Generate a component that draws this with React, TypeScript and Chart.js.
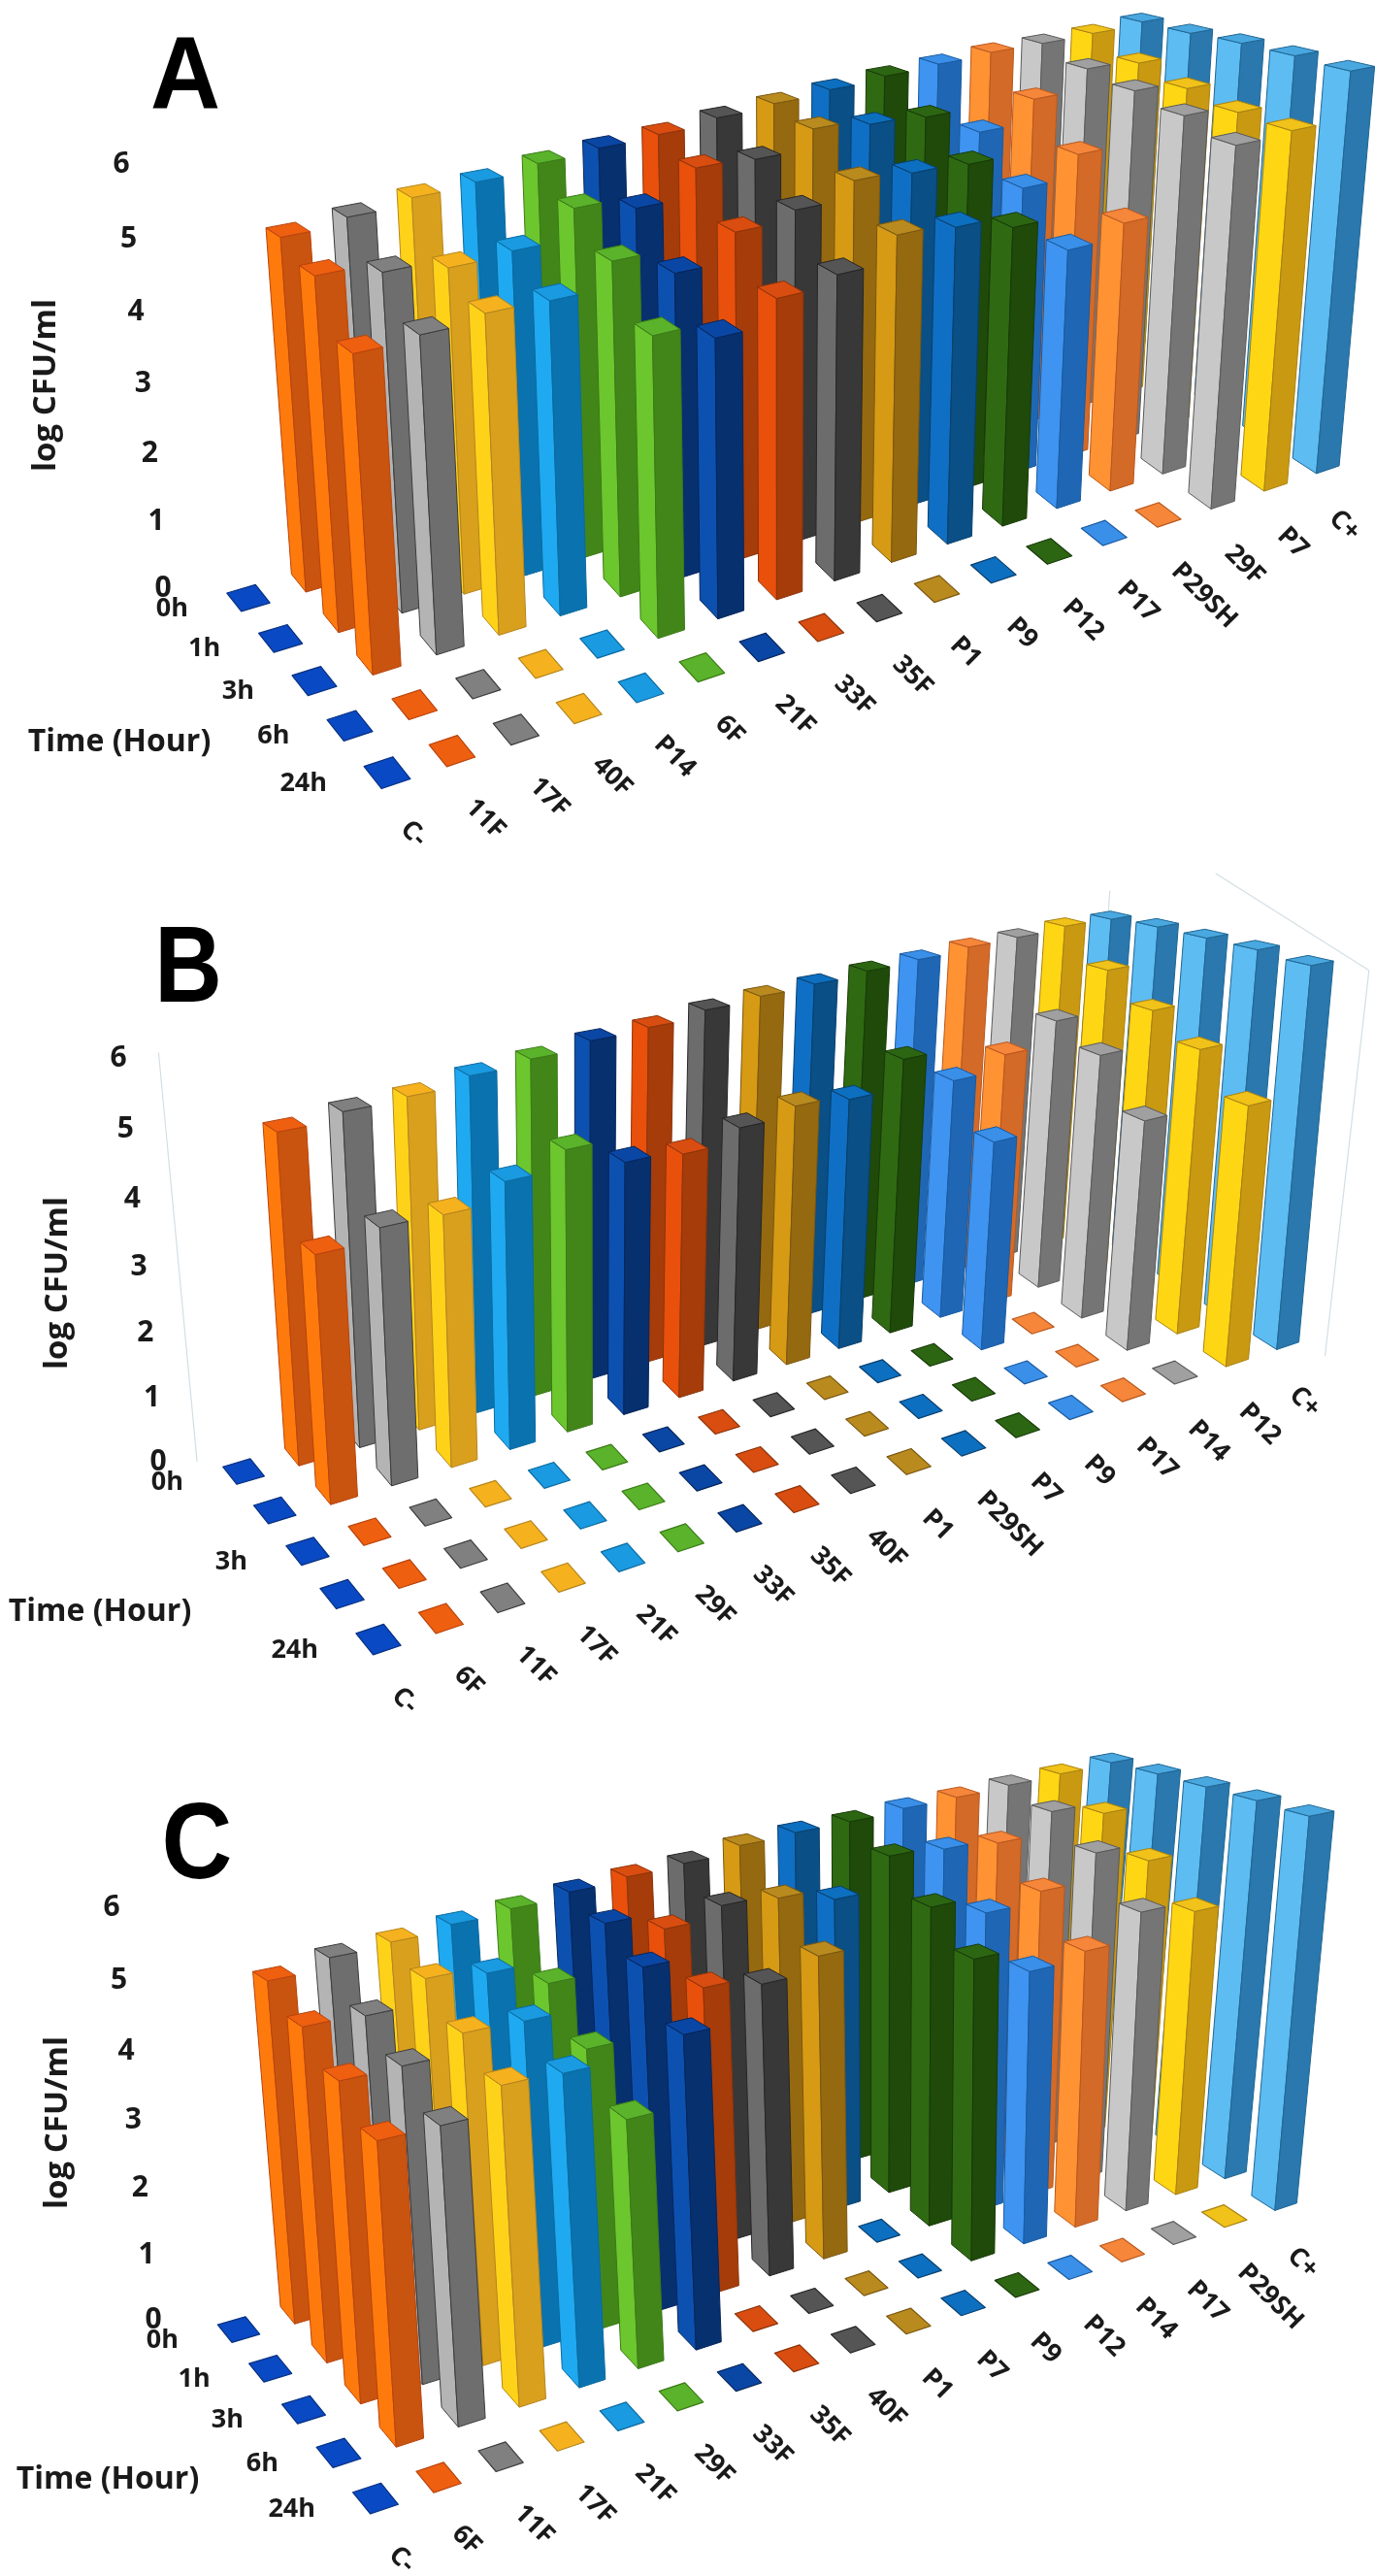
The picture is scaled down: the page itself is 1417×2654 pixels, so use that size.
import React, { useEffect, useRef } from "react";
import { Chart, registerables } from "chart.js";

Chart.register(...registerables);

// ---------- data ----------
const catsA = ["C-", "11F", "17F", "40F", "P14", "6F", "21F", "33F", "35F", "P1", "P9", "P12", "P17", "P29SH", "29F", "P7", "C+"];
const catsB = ["C-", "6F", "11F", "17F", "21F", "29F", "33F", "35F", "40F", "P1", "P29SH", "P7", "P9", "P17", "P14", "P12", "C+"];
const catsC = ["C-", "6F", "11F", "17F", "21F", "29F", "33F", "35F", "40F", "P1", "P7", "P9", "P12", "P14", "P17", "P29SH", "C+"];
const rowsFull = ["0h", "1h", "3h", "6h", "24h"];
const rowsB = ["0h", "", "3h", "", "24h"];
const yTickMax = 6;

const a0h = [0, 5.08, 5.18, 5.28, 5.33, 5.43, 5.49, 5.53, 5.62, 5.68, 5.74, 5.8, 5.84, 5.88, 5.88, 5.9, 5.95];
const a1h = [0, 4.86, 4.73, 4.61, 4.66, 5.07, 4.9, 5.3, 5.26, 5.54, 5.45, 5.4, 5.01, 5.36, 5.68, 5.62, 5.95];
const a3h = [0, 4.19, 4.24, 4.33, 4.31, 4.65, 4.31, 4.69, 4.82, 5.06, 5, 4.96, 4.44, 4.77, 5.56, 5.44, 5.98];
const a6h = [0, 0, 0, 0, 0, 4.01, 3.79, 4.12, 4.25, 4.6, 4.53, 4.35, 3.85, 4.05, 5.42, 5.31, 5.98];
const a24h = [0, 0, 0, 0, 0, 0, 0, 0, 0, 0, 0, 0, 0, 0, 5.24, 5.28, 5.95];

const b0h = [0, 5.02, 5.13, 5.17, 5.3, 5.38, 5.49, 5.53, 5.64, 5.7, 5.74, 5.8, 5.84, 5.9, 5.92, 5.97, 5.95];
const b1h = [0, 3.63, 3.8, 3.78, 4.06, 4.33, 3.95, 3.88, 4.09, 4.24, 4.16, 4.62, 4.09, 4.34, 4.73, 5.42, 6];
const b3h = [0, 0, 0, 0, 0, 0, 0, 0, 0, 0, 0, 0, 3.43, 0, 4.44, 4.99, 6];
const b6h = [0, 0, 0, 0, 0, 0, 0, 0, 0, 0, 0, 0, 0, 0, 3.71, 4.63, 6];
const b24h = [0, 0, 0, 0, 0, 0, 0, 0, 0, 0, 0, 0, 0, 0, 0, 4.06, 5.95];

const c0h = [0, 5.05, 5.2, 5.25, 5.33, 5.39, 5.47, 5.53, 5.57, 5.68, 5.72, 5.73, 5.78, 5.8, 5.84, 5.87, 5.9];
const c1h = [0, 4.72, 4.69, 5.02, 4.92, 4.6, 5.28, 5.03, 5.2, 5.14, 4.95, 5.44, 5.38, 5.31, 5.64, 5.45, 5.92];
const c3h = [0, 4.33, 4.34, 4.59, 4.57, 4.01, 4.95, 4.49, 4.36, 4.58, 0, 4.94, 4.68, 4.83, 5.24, 4.95, 5.92];
const c6h = [0, 3.92, 3.92, 4.24, 4.21, 3.42, 4.35, 0, 0, 0, 0, 4.48, 4.12, 4.23, 4.62, 4.45, 5.92];
const c24h = [0, 0, 0, 0, 0, 0, 0, 0, 0, 0, 0, 0, 0, 0, 0, 0, 5.9];

// ---------- colours per column position: left face, right face, top ----------
const faceLeft = ["#0a49c4", "#ff7a0c", "#b4b4b4", "#ffd21a", "#1fa9f0", "#6cc62d", "#0c51b0", "#e8500c", "#6c6c6c", "#d69a14", "#0f6fc4", "#2f6a12", "#3e94f0", "#ff9233", "#c8c8c8", "#ffd614", "#5dbcf2"];
const faceRight = ["#083a9c", "#c9540f", "#6e6e6e", "#d9a01e", "#0a72ae", "#42861a", "#07306f", "#a53c0a", "#383838", "#95690f", "#0a4f85", "#1f4a0a", "#1f67b5", "#d46a28", "#757575", "#c99912", "#2a78ad"];
const faceTop = ["#0a49c4", "#ee5f10", "#808080", "#f5b21e", "#1a9ae0", "#5ab32a", "#0a47a5", "#d94d10", "#555555", "#b98a1e", "#0d6fc0", "#2d6613", "#3a8fe8", "#f5863a", "#a0a0a0", "#f0c21a", "#4aa8e0"];
const edgeCol = ["#06307f", "#b8430c", "#3c3c3c", "#b5851c", "#0a6aa0", "#3b7a18", "#06255a", "#8d330a", "#262626", "#7a5710", "#083f6c", "#173a08", "#1a5aa0", "#b8581f", "#5a5a5a", "#a98210", "#1f6693"];

type Pt = [number, number];
function homography(p00: Pt, p10: Pt, p11: Pt, p01: Pt) {
  const [x0, y0] = p00, [x1, y1] = p10, [x2, y2] = p11, [x3, y3] = p01;
  const sx = x0 - x1 + x2 - x3, sy = y0 - y1 + y2 - y3;
  const dx1 = x1 - x2, dx2 = x3 - x2, dy1 = y1 - y2, dy2 = y3 - y2;
  const den = dx1 * dy2 - dx2 * dy1;
  const g = (sx * dy2 - dx2 * sy) / den, h = (dx1 * sy - sx * dy1) / den;
  const a = x1 - x0 + g * x1, b = x3 - x0 + h * x3, d = y1 - y0 + g * y1, e = y3 - y0 + h * y3;
  return (u: number, v: number): Pt => {
    const w = g * u + h * v + 1;
    return [(a * u + b * v + x0) / w, (d * u + e * v + y0) / w];
  };
}

const FONT = '"Open Sans"';
const CW = 0.22, RW = 0.23, WARP = 0.933, COLWARP = 0.07;

const oblique3d = {
  id: "oblique3d",
  afterDatasetsDraw(chart: any, _a: any, o: any) {
    const ctx = chart.ctx;
    const xS = chart.scales.x, yS = chart.scales.y, tS = chart.scales.t;
    const off = o.offsetY;
    const shift = (p: number[][]) => p.map((q) => [q[0], q[1] - off] as Pt);
    const [f00, f10, f01, f11] = shift(o.floor);
    const [t00, t10, t01, t11] = shift(o.top);
    const floor = homography(f00, f10, f11, f01);
    const roof = homography(t00, t10, t11, t01);
    const project = (c: number, r: number, val: number): Pt => {
      const u0 = (xS.getPixelForValue(c) - xS.left) / xS.width;
      const v = (tS.getPixelForValue(r) - tS.left) / tS.width;
      const u = u0 / (u0 + (1 - u0) * (1 + COLWARP * v));
      const t0 = (yS.bottom - yS.getPixelForValue(val)) / yS.height;
      const t = (t0 * WARP) / (1 + t0 * (WARP - 1));
      const a = floor(u, v), b = roof(u, v);
      return [a[0] + (b[0] - a[0]) * t, a[1] + (b[1] - a[1]) * t];
    };
    const poly = (pts: Pt[], fill: string, stroke: string, lw = 1) => {
      ctx.beginPath();
      pts.forEach((p, i) => (i ? ctx.lineTo(p[0], p[1]) : ctx.moveTo(p[0], p[1])));
      ctx.closePath();
      ctx.fillStyle = fill;
      ctx.fill();
      ctx.strokeStyle = stroke;
      ctx.lineWidth = lw;
      ctx.lineJoin = "round";
      ctx.stroke();
    };
    ctx.save();

    // faint wall lines of the 3D box
    if (o.wall) {
      ctx.strokeStyle = "#d3dfe5";
      ctx.lineWidth = 1.2;
      o.wall.forEach((s: number[][]) => {
        const p = project(s[0][0], s[0][1], s[0][2]), q = project(s[1][0], s[1][1], s[1][2]);
        ctx.beginPath(); ctx.moveTo(p[0], p[1]); ctx.lineTo(q[0], q[1]); ctx.stroke();
      });
    }

    // bars, far to near
    const nRows = chart.data.datasets.length;
    const nCols = xS.getLabels().length;
    for (let r = 0; r < nRows; r++) {
      const vals = chart.data.datasets[r].data;
      for (let c = nCols - 1; c >= 0; c--) {
        const val = vals[c];
        const l = c - CW, h = c + CW, b = r - RW, f = r + RW;
        if (!val) {
          poly([project(l, b, 0), project(h, b, 0), project(h, f, 0), project(l, f, 0)], faceTop[c], edgeCol[c], 1.2);
          continue;
        }
        poly([project(l, b, 0), project(l, f, 0), project(l, f, val), project(l, b, val)], faceLeft[c], edgeCol[c]);
        poly([project(l, f, 0), project(h, f, 0), project(h, f, val), project(l, f, val)], faceRight[c], edgeCol[c]);
        poly([project(l, b, val), project(h, b, val), project(h, f, val), project(l, f, val)], faceTop[c], edgeCol[c]);
      }
    }

    // value ticks
    ctx.fillStyle = "#1a1a1a";
    ctx.textAlign = "center";
    ctx.textBaseline = "middle";
    ctx.font = `bold 30px ${FONT}`;
    (yS.ticks as any[]).forEach((t) => {
      const p = project(0, 0, t.value);
      ctx.fillText(String(t.value), p[0] - 88 - 1.3 * t.value, p[1] - 10);
    });

    // row labels
    ctx.textAlign = "right";
    ctx.font = `bold 27px ${FONT}`;
    (tS.getLabels() as string[]).forEach((lab, r) => {
      const p = project(0, r, 0);
      ctx.fillText(lab, p[0] - 62, p[1] + 11);
    });

    // category labels
    ctx.textAlign = "left";
    ctx.font = `bold 27px ${FONT}`;
    (xS.getLabels() as string[]).forEach((lab, c) => {
      const p = project(c, nRows - 1, 0);
      ctx.save();
      ctx.translate(p[0] + 18, p[1] + 54);
      ctx.rotate((45 * Math.PI) / 180);
      ctx.fillText(lab, 0, 0);
      ctx.restore();
    });

    // titles
    ctx.textAlign = "center";
    ctx.font = `bold 32px ${FONT}`;
    ctx.fillText(o.xTitle, o.xTitlePos[0], o.xTitlePos[1] - off);
    ctx.save();
    ctx.translate(o.yTitlePos[0], o.yTitlePos[1] - off);
    ctx.rotate(-Math.PI / 2);
    ctx.font = `bold 33px ${FONT}`;
    ctx.fillText(o.yTitle, 0, 0);
    ctx.restore();
    ctx.save();
    ctx.textBaseline = "alphabetic";
    ctx.translate(o.letterPos[0], o.letterPos[1] - off);
    ctx.scale(o.letterScale, 1);
    ctx.font = `bold ${o.letterSize}px "Liberation Sans"`;
    ctx.fillStyle = "#000";
    ctx.fillText(o.letter, 0, 0);
    ctx.restore();
    ctx.restore();
  },
};

function Panel(props: any) {
  const ref = useRef<HTMLCanvasElement | null>(null);
  useEffect(() => {
    const chart = new Chart(ref.current as HTMLCanvasElement, {
      type: "bar",
      data: {
        labels: props.cats,
        datasets: props.series.map((d: number[], i: number) => ({
          label: props.rows[i] || String(i),
          data: d,
          backgroundColor: "transparent",
          borderWidth: 0,
        })),
      },
      options: {
        responsive: false,
        maintainAspectRatio: false,
        animation: false,
        devicePixelRatio: 1,
        layout: { padding: 0 },
        events: [],
        scales: {
          x: { type: "category", offset: false, display: false },
          y: { type: "linear", min: 0, max: yTickMax, ticks: { stepSize: 1 }, display: false },
          t: { type: "category", axis: "x", labels: props.rows, offset: false, display: false },
        },
        plugins: {
          legend: { display: false },
          tooltip: { enabled: false },
          oblique3d: props.geo,
        },
      },
      plugins: [oblique3d],
    } as any);
    return () => chart.destroy();
  }, []);
  return (
    <canvas
      ref={ref}
      width={1417}
      height={props.h}
      style={{ position: "absolute", left: 0, top: props.geo.offsetY, width: 1417, height: props.h, display: "block" }}
    />
  );
}

const geoA = {
  offsetY: 0,
  floor: [[256, 616], [1159, 350], [399, 796], [1356, 476]],
  top: [[221, 179], [1177, 15], [367, 259], [1391, 64]],
  letter: "A", letterPos: [191, 112], letterSize: 105, letterScale: 0.95,
  xTitle: "Time (Hour)", xTitlePos: [123, 765],
  yTitle: "log CFU/ml", yTitlePos: [48, 397],
};
const geoB = {
  offsetY: 900,
  floor: [[251, 1516], [1122, 1258], [390, 1689], [1315, 1379]],
  top: [[218, 1100], [1145, 940], [360, 1179], [1350, 986]],
  letter: "B", letterPos: [194, 1032], letterSize: 112, letterScale: 0.86,
  xTitle: "Time (Hour)", xTitlePos: [103, 1661],
  yTitle: "log CFU/ml", yTitlePos: [60, 1322],
  wall: [
    [[-0.5, -0.5, 0], [-0.68, -0.1, 6.3]],
    [[16.26, 4.69, 0], [16, 5.05, 6]],
    [[16, 2.05, 7], [16, 5.05, 6]],
    [[17.27, -1.27, 6], [17.27, -1.27, 5.6]],
  ],
};
const geoC = {
  offsetY: 1780,
  floor: [[246, 2400], [1120, 2145], [387, 2574], [1313, 2266]],
  top: [[211, 1975], [1146, 1805], [356, 2052], [1350, 1858]],
  letter: "C", letterPos: [203, 1935], letterSize: 112, letterScale: 0.9,
  xTitle: "Time (Hour)", xTitlePos: [111, 2555],
  yTitle: "log CFU/ml", yTitlePos: [60, 2187],
};

export default function App() {
  return (
    <div style={{ position: "absolute", left: 0, top: 0, width: 1417, height: 2654, overflow: "hidden", background: "#fff" }}>
      <Panel h={900} cats={catsA} rows={rowsFull} series={[a0h, a1h, a3h, a6h, a24h]} geo={geoA} />
      <Panel h={880} cats={catsB} rows={rowsB} series={[b0h, b1h, b3h, b6h, b24h]} geo={geoB} />
      <Panel h={874} cats={catsC} rows={rowsFull} series={[c0h, c1h, c3h, c6h, c24h]} geo={geoC} />
    </div>
  );
}
